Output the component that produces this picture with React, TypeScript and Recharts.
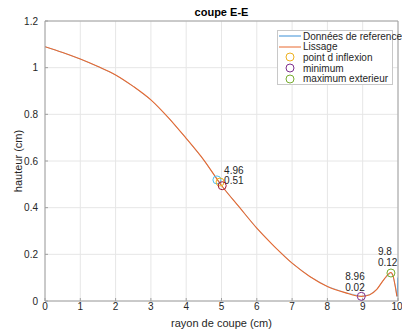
import React from 'react';
import {
    ComposedChart,
    Line,
    Scatter,
    XAxis,
    YAxis,
    CartesianGrid,
    Legend,
    ReferenceLine
} from 'recharts';

// rayon (cm) / hauteur (cm)
const rayon = [0, 0.5, 1, 1.5, 2, 2.5, 3, 3.5, 4, 4.5, 5, 5.5, 6, 6.5, 7, 7.5, 8, 8.5, 8.96, 9.2, 9.4, 9.6, 9.8, 9.86, 9.92, 9.97];
const hauteurLissage = [1.09, 1.065, 1.037, 1.005, 0.969, 0.92, 0.862, 0.785, 0.697, 0.604, 0.495, 0.403, 0.312, 0.233, 0.162, 0.105, 0.062, 0.036, 0.02, 0.027, 0.05, 0.092, 0.122, 0.108, 0.065, 0.02];

const rayonRefFin = [10, 10];
const hauteurRefFin = [0.1, 0.02];

const inflexion = { x: 4.96, y: 0.51 };
const minimum = { x: 8.96, y: 0.02 };
const maxExterieur = { x: 9.8, y: 0.12 };
const pointsBleus = [{ x: 4.87, y: 0.519 }];
const pointsRouges = [{ x: 5.02, y: 0.494 }];

const xTicks = [0, 1, 2, 3, 4, 5, 6, 7, 8, 9, 10];
const yTicks = [0, 0.2, 0.4, 0.6, 0.8, 1, 1.2];

const COLORS = {
    ref: '#3A8FD6',
    lissage: '#E8692E',
    inflexion: '#EDB120',
    minimum: '#7E2F8E',
    maximum: '#77AC30',
    bleu: '#4DBEEE',
    rouge: '#A2142F'
};

const FONT = '"Liberation Sans", Arial, Helvetica, sans-serif';

const lissageData = rayon.map((x, i) => ({ x, y: hauteurLissage[i] }));
const refData = [
    ...lissageData,
    ...rayonRefFin.map((x, i) => ({ x, y: hauteurRefFin[i] }))
];

// décalages des annotations (en px) par rapport au point
const annotationOffsets: Record<string, { dx: number; dy1: number; dy2: number }> = {
    inflexion: { dx: 4, dy1: -12, dy2: -2 },
    minimum: { dx: -16, dy1: -20, dy2: -9 },
    maximum: { dx: -13, dy1: -22, dy2: -11 }
};

const circleShape = (color: string, key?: string) => (props: any) => {
    const { cx, cy, payload } = props;
    const off = key ? annotationOffsets[key] : null;
    return (
        <g>
            <circle cx={cx} cy={cy} r={4} fill="none" stroke={color} strokeWidth={1} />
            {off && (
                <text fontSize={10} fill="#262626" fontFamily={FONT} dominantBaseline="central">
                    <tspan x={cx + off.dx} y={cy + off.dy1}>{payload.x}</tspan>
                    <tspan x={cx + off.dx} y={cy + off.dy2}>{payload.y}</tspan>
                </text>
            )}
        </g>
    );
};

const legendEntries = [
    { label: 'Données de reference', color: COLORS.ref, kind: 'line' },
    { label: 'Lissage', color: COLORS.lissage, kind: 'line' },
    { label: 'point d inflexion', color: COLORS.inflexion, kind: 'circle' },
    { label: 'minimum', color: COLORS.minimum, kind: 'circle' },
    { label: 'maximum exterieur', color: COLORS.maximum, kind: 'circle' }
];

function renderLegend() {
    return (
        <div
            style={{
                width: 116,
                height: 55,
                border: '1px solid #c8c8c8',
                background: '#fff',
                boxSizing: 'border-box',
                padding: '0 0 0 1px',
                fontFamily: FONT,
                fontSize: 10,
                color: '#262626'
            }}
        >
            {legendEntries.map((e) => (
                <div key={e.label} style={{ display: 'flex', alignItems: 'center', height: 10.6 }}>
                    <svg width={23} height={10} style={{ flex: 'none' }}>
                        {e.kind === 'line' ? (
                            <line x1={0} y1={5} x2={22} y2={5} stroke={e.color} strokeWidth={1} />
                        ) : (
                            <circle cx={11} cy={5} r={4} fill="none" stroke={e.color} />
                        )}
                    </svg>
                    <span style={{ marginLeft: 1, whiteSpace: 'nowrap' }}>{e.label}</span>
                </div>
            ))}
        </div>
    );
}

export default function App() {
    return (
        <div style={{ position: 'absolute', left: 0, top: 0, width: 402, height: 336, background: '#fff' }}>
            <div
                style={{
                    position: 'absolute',
                    left: 45,
                    width: 353,
                    top: 6,
                    textAlign: 'center',
                    fontFamily: FONT,
                    fontWeight: 'bold',
                    fontSize: 11,
                    color: '#000'
                }}
            >
                coupe E-E
            </div>
            <ComposedChart
                width={402}
                height={336}
                margin={{ top: 21, right: 4, left: 5, bottom: 0 }}
                style={{ fontFamily: FONT }}
            >
                <CartesianGrid stroke="#e6e6e6" strokeWidth={1} />
                <XAxis
                    type="number"
                    dataKey="x"
                    domain={[0, 10]}
                    ticks={xTicks}
                    allowDataOverflow
                    height={35}
                    tickSize={-3}
                    tickLine={{ stroke: '#a0a0a0' }}
                    axisLine={{ stroke: '#a0a0a0' }}
                    tick={{ fontSize: 10, fill: '#262626' }}
                    tickMargin={5}
                    label={{ value: 'rayon de coupe (cm)', position: 'insideBottom', offset: 9, fontSize: 11, fill: '#262626' }}
                />
                <YAxis
                    type="number"
                    domain={[0, 1.2]}
                    ticks={yTicks}
                    allowDataOverflow
                    width={40}
                    tickSize={-3}
                    tickLine={{ stroke: '#a0a0a0' }}
                    axisLine={{ stroke: '#a0a0a0' }}
                    tick={{ fontSize: 10, fill: '#262626' }}
                    tickMargin={10}
                    label={{ value: 'hauteur (cm)', angle: -90, position: 'insideLeft', offset: 13, fontSize: 11, fill: '#262626', style: { textAnchor: 'middle' } }}
                />
                <ReferenceLine y={1.2} stroke="#a0a0a0" />
                <ReferenceLine x={10} stroke="#a0a0a0" />
                <Line
                    data={refData}
                    dataKey="y"
                    type="linear"
                    stroke={COLORS.ref}
                    strokeWidth={0.5}
                    dot={false}
                    isAnimationActive={false}
                />
                <Line
                    data={lissageData}
                    dataKey="y"
                    type="monotone"
                    stroke={COLORS.lissage}
                    strokeWidth={1.1}
                    dot={false}
                    isAnimationActive={false}
                />
                <Scatter data={pointsBleus} dataKey="y" shape={circleShape(COLORS.bleu)} isAnimationActive={false} />
                <Scatter data={[inflexion]} dataKey="y" shape={circleShape(COLORS.inflexion, 'inflexion')} isAnimationActive={false} />
                <Scatter data={pointsRouges} dataKey="y" shape={circleShape(COLORS.rouge)} isAnimationActive={false} />
                <Scatter data={[minimum]} dataKey="y" shape={circleShape(COLORS.minimum, 'minimum')} isAnimationActive={false} />
                <Scatter data={[maxExterieur]} dataKey="y" shape={circleShape(COLORS.maximum, 'maximum')} isAnimationActive={false} />
                <Legend
                    layout="horizontal"
                    verticalAlign="middle"
                    content={renderLegend}
                    wrapperStyle={{ left: 277, top: 30, width: 116, height: 55 }}
                />
            </ComposedChart>
        </div>
    );
}
